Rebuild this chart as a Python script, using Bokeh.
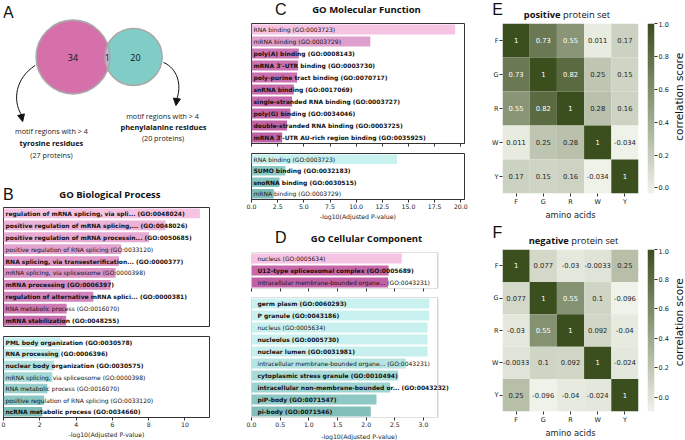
import numpy as np
from bokeh.plotting import figure
from bokeh.models import (Range1d, FactorRange, ColumnDataSource, FixedTicker, LabelSet,
                          PrintfTickFormatter, LinearColorMapper, Arrow, NormalHead,
                          BoxAnnotation)
from bokeh.layouts import row, column
from bokeh.transform import transform
from bokeh.core.properties import value
from bokeh.embed import file_html
from bokeh.resources import INLINE

# ---------------- data ----------------
venn_counts = [34, 1, 20]          # tyrosine only, both, phenylalanine only
tyr_proteins = 27
phe_proteins = 20

bp_up_terms = [
    "regulation of mRNA splicing, via spli... (GO:0048024)",
    "positive regulation of mRNA splicing,... (GO:0048026)",
    "positive regulation of mRNA processin... (GO:0050685)",
    "positive regulation of RNA splicing (GO:0033120)",
    "RNA splicing, via transesterification... (GO:0000377)",
    "mRNA splicing, via spliceosome (GO:0000398)",
    "mRNA processing (GO:0006397)",
    "regulation of alternative mRNA splici... (GO:0000381)",
    "RNA metabolic process (GO:0016070)",
    "mRNA stabilization (GO:0048255)",
]
bp_up_vals = [10.82, 8.93, 8.02, 6.49, 6.36, 6.18, 5.90, 4.95, 3.48, 3.45]
bp_up_bold = [1, 1, 1, 0, 1, 0, 1, 1, 0, 1]

bp_dn_terms = [
    "PML body organization (GO:0030578)",
    "RNA processing (GO:0006396)",
    "nuclear body organization (GO:0030575)",
    "mRNA splicing, via spliceosome (GO:0000398)",
    "RNA metabolic process (GO:0016070)",
    "positive regulation of RNA splicing (GO:0033120)",
    "ncRNA metabolic process (GO:0034660)",
]
bp_dn_vals = [3.15, 3.12, 2.79, 2.69, 2.42, 2.24, 2.14]
bp_dn_bold = [1, 1, 1, 0, 0, 0, 1]

mf_up_terms = [
    "RNA binding (GO:0003723)",
    "mRNA binding (GO:0003729)",
    "poly(A) binding (GO:0008143)",
    "mRNA 3'-UTR binding (GO:0003730)",
    "poly-purine tract binding (GO:0070717)",
    "snRNA binding (GO:0017069)",
    "single-stranded RNA binding (GO:0003727)",
    "poly(G) binding (GO:0034046)",
    "double-stranded RNA binding (GO:0003725)",
    "mRNA 3'-UTR AU-rich region binding (GO:0035925)",
]
mf_up_vals = [19.46, 11.35, 4.52, 4.45, 4.36, 4.04, 3.88, 3.72, 3.40, 2.93]
mf_up_bold = [0, 0, 1, 1, 1, 1, 1, 1, 1, 1]

mf_dn_terms = [
    "RNA binding (GO:0003723)",
    "SUMO binding (GO:0032183)",
    "snoRNA binding (GO:0030515)",
    "mRNA binding (GO:0003729)",
]
mf_dn_vals = [13.9, 3.24, 2.67, 2.13]
mf_dn_bold = [0, 1, 1, 0]

cc_up_terms = [
    "nucleus (GO:0005634)",
    "U12-type spliceosomal complex (GO:0005689)",
    "intracellular membrane-bounded organe... (GO:0043231)",
]
cc_up_vals = [2.62, 2.39, 2.38]
cc_up_bold = [0, 1, 0]

cc_dn_terms = [
    "germ plasm (GO:0060293)",
    "P granule (GO:0043186)",
    "nucleus (GO:0005634)",
    "nucleolus (GO:0005730)",
    "nuclear lumen (GO:0031981)",
    "intracellular membrane-bounded organe... (GO:0043231)",
    "cytoplasmic stress granule (GO:0010494)",
    "intracellular non-membrane-bounded or... (GO:0043232)",
    "piP-body (GO:0071547)",
    "pi-body (GO:0071546)",
]
cc_dn_vals = [3.10, 3.10, 3.07, 3.07, 3.07, 2.69, 2.56, 2.42, 2.18, 2.08]
cc_dn_bold = [1, 1, 0, 1, 1, 0, 1, 1, 1, 1]

bp_ticks = [0, 2, 4, 6, 8, 10]
mf_ticks = [0.0, 2.5, 5.0, 7.5, 10.0, 12.5, 15.0, 17.5, 20.0]
cc_ticks = [0.0, 0.5, 1.0, 1.5, 2.0, 2.5, 3.0]
x_title = "-log10(Adjusted P-value)"

aa = ["F", "G", "R", "W", "Y"]
corr_positive = [
    [1, 0.73, 0.55, 0.011, 0.17],
    [0.73, 1, 0.82, 0.25, 0.15],
    [0.55, 0.82, 1, 0.28, 0.16],
    [0.011, 0.25, 0.28, 1, -0.034],
    [0.17, 0.15, 0.16, -0.034, 1],
]
corr_negative = [
    [1, 0.077, -0.03, -0.0033, 0.25],
    [0.077, 1, 0.55, 0.1, -0.096],
    [-0.03, 0.55, 1, 0.092, -0.04],
    [-0.0033, 0.1, 0.092, 1, -0.024],
    [0.25, -0.096, -0.04, -0.024, 1],
]
cbar_ticks = [0.0, 0.2, 0.4, 0.6, 0.8, 1.0]

# ---------------- styles ----------------
bp_up_colors = ["#f6c3e3", "#ecb2d8", "#e8aad3", "#e4a2ce", "#e09ac9",
                "#dc93c5", "#d88bc0", "#d283bb", "#cc79b4", "#c66fad"]
bp_dn_colors = ["#c9f1f0", "#c0ebea", "#b0e0de", "#a3d8d5", "#97cfcc", "#8ac6c2", "#7ebdb9"]
mf_up_colors = ["#f6c3e3", "#df9fcc", "#cc76b5", "#cb73b3", "#c970b1",
                "#c76dae", "#c56aac", "#c367aa", "#c164a7", "#bf61a5"]
mf_dn_colors = ["#c9f1f0", "#8ccac6", "#84c4c0", "#7dbdb9"]
cc_up_colors = ["#f6c3e3", "#c766a8", "#c262a5"]
cc_dn_colors = ["#c9f1f0", "#c9f1f0", "#c8f0ef", "#c8f0ef", "#c7efee",
                "#b6e4e1", "#a8dbd8", "#9dd3d0", "#8ec8c4", "#82bfbb"]

PINK = "#d670aa"
TEAL = "#80cdc7"
LENS = "#c7b2d6"
lo = np.array([0xef, 0xf2, 0xe9], dtype=float)
hi = np.array([0x3b, 0x4e, 0x1e], dtype=float)
PALETTE = ["#%02x%02x%02x" % tuple(int(round(c)) for c in lo + (hi - lo) * t)
           for t in np.linspace(0, 1, 256)]


def px(v):
    return int(round(v))


def fs(v):
    return f"{v:.2f}px"


SANS = value("DejaVu Sans")
OPEN = value("Open Sans")
LETTER = value("Liberation Sans")


def base(width, height, **kw):
    p = figure(width=width, height=height, toolbar_location=None, output_backend="svg", **kw)
    p.grid.visible = False
    p.background_fill_color = "white"
    p.border_fill_color = "white"
    return p


def boxed(x0, x1, y0, y1, fx0, fx1, fy0, fy1, **kw):
    return base(px(x1) - px(x0), px(y1) - px(y0),
                min_border_left=px(fx0) - px(x0), min_border_right=px(x1) - px(fx1),
                min_border_top=px(fy0) - px(y0), min_border_bottom=px(y1) - px(fy1), **kw)


def canvas(x0, x1, y0, y1, flip=True):
    yr = Range1d(y1, y0) if flip else Range1d(y0, y1)
    p = base(px(x1) - px(x0), px(y1) - px(y0), x_range=Range1d(x0, x1), y_range=yr,
             min_border_left=0, min_border_right=0, min_border_top=0, min_border_bottom=0,
             x_axis_location=None, y_axis_location=None)
    p.outline_line_color = None
    return p


def put(p, x, y, s, size, font=OPEN, style="normal", align="center", color="#111111", angle=0.0):
    p.text(x=[x], y=[y], text=[s], text_font=font, text_font_size=fs(size),
           text_font_style=style, text_align=align, text_baseline="middle",
           text_color=color, angle=angle)


def style_axis(ax, size=6.2):
    ax.major_tick_out = 3
    ax.major_tick_in = 0
    ax.minor_tick_line_color = None
    ax.axis_line_color = "#333333"
    ax.major_tick_line_color = "#333333"
    ax.major_label_text_font = "DejaVu Sans"
    ax.major_label_text_font_size = fs(size)
    ax.major_label_text_color = "#222222"
    ax.major_label_standoff = 1
    ax.axis_label_text_font = "DejaVu Sans"
    ax.axis_label_text_font_style = "normal"
    ax.axis_label_text_color = "#222222"
    ax.axis_label_standoff = 2


def bars(x0, x1, y0, y1, fx0, fx1, fy0, fy1, terms, vals, bold, colors, xmax,
         ticks=None, fmt=None, show_labels=False, xlabel=None, indent=2, box_px=None):
    n = len(vals)
    # box_px: right edge (px) of the drawn box; the frame may extend further so long
    # labels are not clipped
    box_right = fx1 if box_px is None else box_px
    xr_end = xmax * (fx1 - fx0) / (box_right - fx0)
    p = boxed(x0, x1, y0, y1, fx0, fx1, fy0, fy1,
              x_range=Range1d(0, xr_end), y_range=Range1d(n - 0.5, -0.5),
              x_axis_location="below" if ticks else None, y_axis_location=None)
    if box_px is None:
        p.outline_line_color = "#333333"
    else:
        p.outline_line_color = None
        p.add_layout(BoxAnnotation(left=0, right=xmax, bottom=-0.5, top=n - 0.5,
                                   fill_alpha=0, line_color="#333333", line_width=1))
    src = ColumnDataSource(dict(y=list(range(n)), v=vals, c=colors, t=terms,
                                w=["bold" if b else "normal" for b in bold]))
    p.hbar(y="y", right="v", left=0, height=0.82, fill_color="c", line_color=None, source=src)
    p.add_layout(LabelSet(x=0, y="y", text="t", source=src, x_offset=indent,
                          text_font=SANS, text_font_size=fs(6), text_font_style="w",
                          text_baseline="middle", text_color="#111111"))
    if ticks:
        ax = p.xaxis[0]
        ax.ticker = FixedTicker(ticks=ticks)
        style_axis(ax)
        if box_px is not None:
            ax.axis_line_color = None
        if fmt:
            ax.formatter = PrintfTickFormatter(format=fmt)
        if not show_labels:
            ax.major_label_text_font_size = "1px"
            ax.major_label_text_color = None
            ax.major_label_standoff = 0
        if xlabel:
            ax.axis_label = xlabel
            ax.axis_label_text_font_size = fs(6.2)
            ax.axis_label_standoff = 1
    return p


def heat_block(corr, y0, y1, fy0, fy1):
    vmin = min(min(r) for r in corr)
    mapper = LinearColorMapper(palette=PALETTE, low=vmin, high=1.0)
    p = boxed(478, 642, y0, y1, 502.3, 638, fy0, fy1,
              x_range=FactorRange(*aa), y_range=FactorRange(*aa[::-1]))
    p.outline_line_color = None
    xs, ys, vs, ts, cs = [], [], [], [], []
    for i, r in enumerate(aa):
        for j, c in enumerate(aa):
            v = corr[i][j]
            xs.append(c)
            ys.append(r)
            vs.append(v)
            ts.append(format(v, ".2g"))
            cs.append("white" if (v - vmin) / (1 - vmin) > 0.42 else "#262626")
    src = ColumnDataSource(dict(x=xs, y=ys, v=vs, t=ts, c=cs))
    p.rect(x="x", y="y", width=1, height=1, source=src,
           fill_color=transform("v", mapper), line_color=None)
    p.text(x="x", y="y", text="t", text_color="c", source=src, text_align="center",
           text_baseline="middle", text_font=SANS, text_font_size=fs(6.8))
    for ax in (p.xaxis[0], p.yaxis[0]):
        style_axis(ax, 6.5)
        ax.axis_line_color = None
    p.xaxis[0].axis_label = "amino acids"
    p.xaxis[0].axis_label_text_font_size = fs(8.3)
    p.xaxis[0].axis_label_standoff = 1

    cb = boxed(642, 671, y0, y1, 646.7, 655.7, fy0, fy1,
               x_range=Range1d(0, 1), y_range=Range1d(vmin, 1),
               x_axis_location=None, y_axis_location="right")
    cb.outline_line_color = None
    cb.image(image=[np.linspace(vmin, 1, 256).reshape(-1, 1)], x=0, y=vmin,
             dw=1, dh=1 - vmin, color_mapper=mapper)
    ax = cb.yaxis[0]
    ax.ticker = FixedTicker(ticks=cbar_ticks)
    ax.formatter = PrintfTickFormatter(format="%.1f")
    style_axis(ax, 6.5)
    ax.axis_line_color = None

    lab = canvas(671, 685, y0, y1, flip=False)
    put(lab, 678.5, (y0 + y1) - (fy0 + fy1) / 2, "correlation score", 10.5,
        font=SANS, angle=np.pi / 2)
    return row(p, cb, lab)


# ---------------- column 1 : A + B ----------------
A = canvas(0, 215, 0, 203)
put(A, 5, 12, "A", 16, font=LETTER)
k = 6.5
r1 = k * np.sqrt(venn_counts[0] + venn_counts[1])
r2 = k * np.sqrt(venn_counts[2] + venn_counts[1])
cy, c1 = 56.5, 72.5
d = r1 + r2 - 5.0
c2 = c1 + d
A.circle(x=[c1], y=[cy], radius=r1, fill_color=PINK, line_color=None)
A.circle(x=[c2], y=[cy], radius=r2, fill_color=TEAL, line_color=None)
a = (d * d + r1 * r1 - r2 * r2) / (2 * d)
t1 = np.arccos(a / r1)
t2 = np.arccos((d - a) / r2)
th1 = np.linspace(-t1, t1, 30)
th2 = np.linspace(np.pi - t2, np.pi + t2, 30)
A.patch(np.concatenate([c1 + r1 * np.cos(th1), c2 + r2 * np.cos(th2)]),
        np.concatenate([cy + r1 * np.sin(th1), cy + r2 * np.sin(th2)]),
        fill_color=LENS, line_color=None)
for cx, rr in ((c1, r1), (c2, r2)):
    A.circle(x=[cx], y=[cy], radius=rr, fill_color=None, line_color="#a9a9a9", line_width=1.6)
put(A, c1, cy, str(venn_counts[0]), 9)
put(A, (c1 + r1 + c2 - r2) / 2, cy, str(venn_counts[1]), 9)
put(A, c2 + 2, cy, str(venn_counts[2]), 9)

A.bezier(x0=[33], y0=[65], x1=[18], y1=[113], cx0=[12], cy0=[78], cx1=[10], cy1=[100],
         line_color="#111111", line_width=1)
A.add_layout(Arrow(end=NormalHead(size=7, fill_color="#111111", line_color="#111111"),
                   x_start=18, y_start=113, x_end=20, y_end=121, line_width=1,
                   line_color="#111111"))
A.bezier(x0=[167], y0=[62], x1=[181], y1=[98], cx0=[182], cy0=[68], cx1=[186], cy1=[85],
         line_color="#111111", line_width=1)
A.add_layout(Arrow(end=NormalHead(size=7, fill_color="#111111", line_color="#111111"),
                   x_start=181, y_start=98, x_end=180, y_end=105, line_width=1,
                   line_color="#111111"))

put(A, 50, 130.5, "motif regions with > 4", 7.2, color="#222222")
put(A, 50, 142.5, "tyrosine residues", 7.4, style="bold")
put(A, 50, 154, f"({tyr_proteins} proteins)", 7.2, color="#222222")
put(A, 166, 115, "motif regions with > 4", 7.2, color="#222222")
put(A, 167, 126, "phenylalanine residues", 7.4, style="bold")
put(A, 166.5, 137, f"({phe_proteins} proteins)", 7.2, color="#222222")

put(A, 5, 193.5, "B", 16, font=LETTER)
put(A, 111, 194, "GO Biological Process", 9.5, style="bold")

B1 = bars(0, 215, 203, 330, 3, 209, 207, 326, bp_up_terms, bp_up_vals, bp_up_bold,
          bp_up_colors, 11.35)
B2 = bars(0, 215, 330, 440, 3, 209, 336, 418, bp_dn_terms, bp_dn_vals, bp_dn_bold,
          bp_dn_colors, 11.35, ticks=bp_ticks, show_labels=True, xlabel=x_title)
col1 = column(A, B1, B2)

# ---------------- column 2 : C + D ----------------
TC = canvas(215, 478, 0, 22)
put(TC, 251, 8.5, "C", 16, font=LETTER)
put(TC, 357, 8.5, "GO Molecular Function", 9.5, style="bold")
C1 = bars(215, 478, 22, 150, 250.7, 464.3, 23, 142.7, mf_up_terms, mf_up_vals, mf_up_bold,
          mf_up_colors, 20.35, ticks=mf_ticks)
C2 = bars(215, 478, 150, 222, 250.7, 464.3, 152.7, 200, mf_dn_terms, mf_dn_vals, mf_dn_bold,
          mf_dn_colors, 20.35, ticks=mf_ticks, fmt="%.1f", show_labels=True, xlabel=x_title)
TD = canvas(215, 478, 222, 250)
put(TD, 251, 237, "D", 16, font=LETTER)
put(TD, 357, 237.5, "GO Cellular Component", 9.5, style="bold")
D1 = bars(215, 478, 250, 294, 250.7, 472, 251.7, 288.3, cc_up_terms, cc_up_vals, cc_up_bold,
          cc_up_colors, 3.25, ticks=cc_ticks, indent=6, box_px=444.3)
D2 = bars(215, 478, 294, 429, 250.7, 472, 296.7, 417.7, cc_dn_terms, cc_dn_vals, cc_dn_bold,
          cc_dn_colors, 3.25, ticks=cc_ticks, fmt="%.1f", show_labels=True, indent=6,
          box_px=444.3)
DL = canvas(215, 478, 429, 440)
put(DL, 348, 434.5, x_title, 6.2, font=SANS, color="#222222")
col2 = column(TC, C1, C2, TD, D1, D2, DL)

# ---------------- column 3 : E + F ----------------
TE = canvas(478, 685, 0, 21)
put(TE, 497, 8.5, "E", 16, font=LETTER)
put(TE, 560, 14, "positive", 9.3, style="bold", align="right")
put(TE, 562.5, 14, "protein set", 9.3, align="left")
HE = heat_block(corr_positive, 21, 222, 22.7, 192.7)

TF = canvas(478, 685, 222, 248)
put(TF, 497, 232, "F", 16, font=LETTER)
put(TF, 568.3, 240, "negative", 9.3, style="bold", align="right")
put(TF, 570.8, 240, "protein set", 9.3, align="left")
HF = heat_block(corr_negative, 248, 440, 249.3, 419)
col3 = column(TE, HE, TF, HF)

layout = row(col1, col2, col3)
open("out.html", "w").write(file_html(layout, INLINE))
